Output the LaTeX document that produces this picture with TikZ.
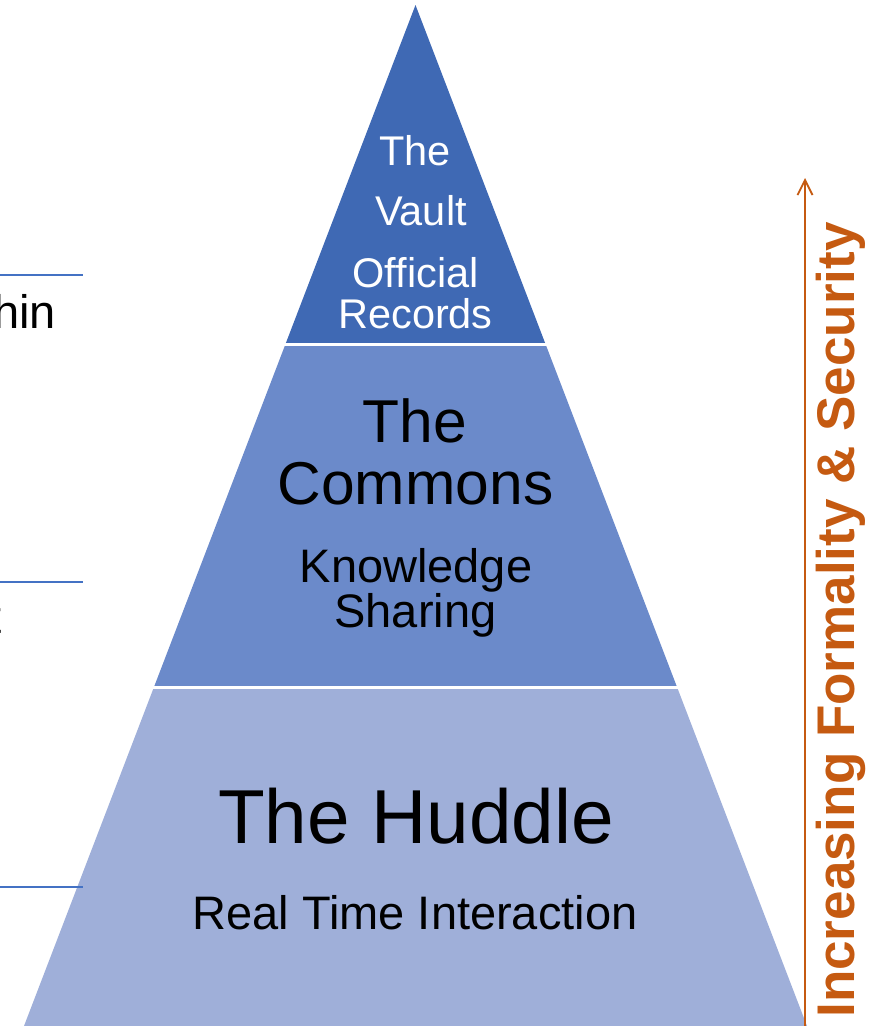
\documentclass[tikz,border=0pt]{standalone}
\usepackage{fontspec}
\setmainfont{Liberation Sans}
\usetikzlibrary{arrows.meta}
\definecolor{vaultc}{HTML}{3F69B4}
\definecolor{commonsc}{HTML}{6B8ACA}
\definecolor{huddlec}{HTML}{9FAFD9}
\definecolor{linec}{HTML}{4472C4}
\definecolor{orangec}{HTML}{C55A11}
\tikzset{
  lbl/.style={inner sep=0pt, anchor=base},
  wtxt/.style={lbl, text=white},
  btxt/.style={lbl, text=black},
  sideline/.style={draw=linec, line width=2.4pt},
}
\newcommand{\fs}[1]{\fontsize{#1}{#1}\selectfont}
\begin{document}
\begin{tikzpicture}[x=1pt,y=-1pt]
\useasboundingbox (0,0) rectangle (884,1026);
\clip (0,0) rectangle (884,1026);
% pyramid layers
\begin{scope}
  \clip (415.5,5) -- (807,1026) -- (24,1026) -- cycle;
  \fill[vaultc] (0,0) rectangle (884,343);
  \fill[commonsc] (0,346) rectangle (884,686);
  \fill[huddlec] (0,689) rectangle (884,1030);
\end{scope}
% left lines
\draw[sideline] (0,275) -- (83,275);
\draw[sideline] (0,582) -- (83,582);
\draw[sideline] (0,887) -- (83,887);
% left partial texts
\node[btxt, anchor=base east] (hin) at (56,328) {\fs{47}hin};
\node[btxt, anchor=base east] (tfrag) at (2,633) {\fs{47}t};
% vault
\node[wtxt] (v1) at (415,165) {\fs{41.5}The};
\node[wtxt] (v2) at (421,225) {\fs{41.5}Vault};
\node[wtxt] (v3) at (415.5,287) {\fs{41.5}Official};
\node[wtxt] (v4) at (415.5,328) {\fs{41.5}Records};
% commons
\node[btxt] (c1) at (415,442) {\fs{60.5}The};
\node[btxt] (c2) at (415.5,504) {\fs{60.5}Commons};
\node[btxt] (c3) at (416,582) {\fs{47}Knowledge};
\node[btxt] (c4) at (415.5,627) {\fs{47}Sharing};
% huddle
\node[btxt] (h1) at (416,843) {\fs{76.5}The Huddle};
\node[btxt] (h2) at (415,929) {\fs{47}Real Time Interaction};
% arrow
\coordinate (abot) at (805,1026);
\coordinate (atop) at (805,178);
\draw[orangec, line width=1.8pt, -{Straight Barb[length=15pt,width=15pt,line width=1.8pt]}] (abot) -- (atop);
\node[lbl, text=orangec, rotate=90] (vt) at (854,620) {\fs{53}\bfseries Increasing Formality \& Security};
\end{tikzpicture}
\end{document}
